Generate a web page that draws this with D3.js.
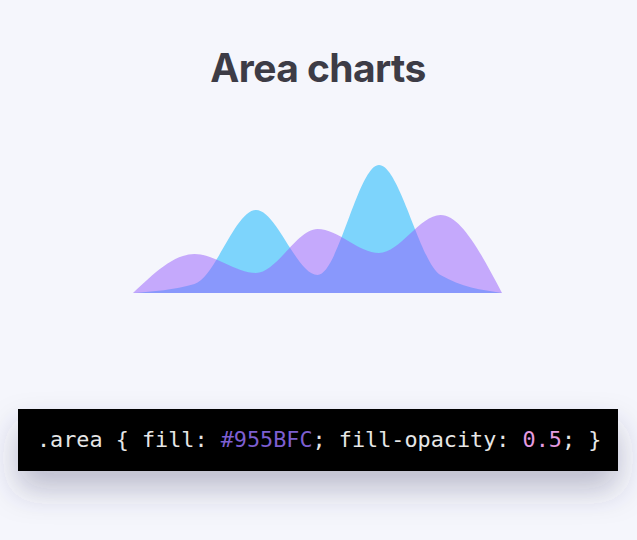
<!DOCTYPE html>
<html>
<head>
<meta charset="utf-8">
<script src="https://cdn.jsdelivr.net/npm/d3@7"></script>
<style>
  html, body { margin: 0; padding: 0; background: #f5f6fc; }
  svg { display: block; }
</style>
</head>
<body>
<script>
// Data
const categories = [0, 1, 2, 3, 4, 5, 6];
const seriesCyan = [0, 9, 83, 18, 128, 18, 0];
const seriesPurple = [0, 39, 20, 64, 40, 78, 0];
const titleText = "Area charts";
const codeParts = [
  { text: ".area { fill: ", cls: "plain" },
  { text: "#955BFC", cls: "hex" },
  { text: "; fill-opacity: ", cls: "plain" },
  { text: "0.5", cls: "num" },
  { text: "; }", cls: "plain" }
];

const W = 637, H = 540;
const svg = d3.select("body").append("svg").attr("width", W).attr("height", H);

svg.append("rect").attr("width", W).attr("height", H).attr("fill", "#f5f6fc");

const defs = svg.append("defs");
const f = defs.append("filter").attr("id", "shadow")
  .attr("x", "-20%").attr("y", "-60%").attr("width", "140%").attr("height", "280%");
f.append("feDropShadow").attr("dx", 0).attr("dy", 18).attr("stdDeviation", 16)
  .attr("flood-color", "#3a3560").attr("flood-opacity", 0.3);

// Title
svg.append("text")
  .attr("x", 318).attr("y", 82)
  .attr("text-anchor", "middle")
  .attr("font-family", "Inter, 'Noto Sans', sans-serif")
  .attr("font-weight", 700)
  .attr("font-size", 39)
  .attr("letter-spacing", -0.6)
  .attr("fill", "#3d3c46")
  .text(titleText);

// Scales
const x = d3.scaleLinear().domain([0, 6]).range([133, 502]);
const y = d3.scaleLinear().domain([0, 130]).range([293, 163]);

const area = d3.area()
  .x((d, i) => x(categories[i]))
  .y0(y(0))
  .y1(d => y(d))
  .curve(d3.curveMonotoneX);

svg.append("path").datum(seriesCyan)
  .attr("d", area)
  .attr("fill", "#05b2fb").attr("fill-opacity", 0.5);

svg.append("path").datum(seriesPurple)
  .attr("d", area)
  .attr("fill", "#955BFC").attr("fill-opacity", 0.5);

// Code box
svg.append("rect")
  .attr("x", 18).attr("y", 409).attr("width", 600).attr("height", 62)
  .attr("fill", "#000")
  .attr("filter", "url(#shadow)");

const colors = { plain: "#e6e6e6", hex: "#7d5fd0", num: "#e59be0" };
const t = svg.append("text")
  .attr("x", 37).attr("y", 447)
  .attr("font-family", "'DejaVu Sans Mono', monospace")
  .attr("font-size", 21.8)
  .attr("xml:space", "preserve")
  .style("white-space", "pre");
t.selectAll("tspan").data(codeParts).join("tspan")
  .attr("fill", d => colors[d.cls])
  .text(d => d.text);
</script>
</body>
</html>
